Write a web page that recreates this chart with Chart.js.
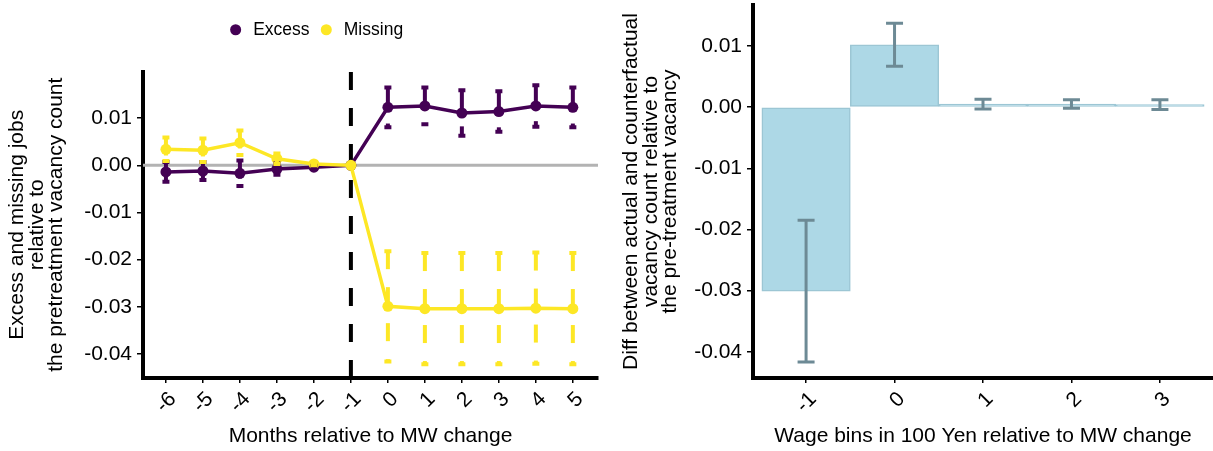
<!DOCTYPE html>
<html>
<head>
<meta charset="utf-8">
<script src="https://cdn.jsdelivr.net/npm/chart.js@4/dist/chart.umd.min.js"></script>
<style>
  html, body { margin: 0; padding: 0; background: #fff; }
  #wrap { position: relative; width: 1213px; height: 451px; overflow: hidden; }
  .panel { position: absolute; top: 0; height: 451px; }
  #rightPanel { left: 610px; width: 603px; }
  #leftPanel { left: 0; width: 630px; }
</style>
</head>
<body>
<div id="wrap">
  <div class="panel" id="rightPanel"><canvas id="diffChart"></canvas></div>
  <div class="panel" id="leftPanel"><canvas id="eventChart"></canvas></div>
</div>
<script>
/* data */
var months = [-6, -5, -4, -3, -2, -1, 0, 1, 2, 3, 4, 5];
var excessVals = [-0.0014, -0.0012, -0.0017, -0.0008, -0.0004, 0, 0.0123, 0.0126, 0.0111, 0.0114, 0.0126, 0.0123];
var excessErr = [0.0021, 0.0019, 0.0027, 0.0012, 0.0003, 0, 0.0042, 0.0039, 0.0048, 0.0043, 0.0044, 0.0042];
var missingVals = [0.0034, 0.0032, 0.0048, 0.0014, 0.0003, 0, -0.0299, -0.0304, -0.0304, -0.0304, -0.0303, -0.0304];
var missingErr = [0.0025, 0.0025, 0.0026, 0.0011, 0.0003, 0, 0.0117, 0.0118, 0.0118, 0.0118, 0.0118, 0.0118];

var wageBins = [-1, 0, 1, 2, 3];
var diffVals = [-0.0301, 0.0102, 0.0005, 0.0005, 0.0004];
var diffErr = [0.0116, 0.0035, 0.0008, 0.0007, 0.0008];

var leftYTicks = [-0.04, -0.03, -0.02, -0.01, 0, 0.01];
var rightYTicks = [-0.04, -0.03, -0.02, -0.01, 0, 0.01];

var PURPLE = '#440154';
var YELLOW = '#fde725';
var FONT = "'Liberation Sans', Arial, Helvetica, sans-serif";

Chart.defaults.font.family = FONT;
Chart.defaults.color = '#000';

function toPoints(xs, ys) {
  return xs.map(function (x, i) { return { x: x, y: ys[i] }; });
}

/* draws error bars for one dataset, positions come from the element/scale */
function drawErrors(chart, dsIndex, vals, errs, opt) {
  var ctx = chart.ctx, ys = chart.scales.y, meta = chart.getDatasetMeta(dsIndex);
  var h = opt.cap / 2;
  ctx.save();
  ctx.strokeStyle = opt.color;
  ctx.lineWidth = opt.width;
  ctx.lineCap = 'butt';
  vals.forEach(function (v, i) {
    if (!errs[i]) return;
    var x = meta.data[i].x;
    var top = ys.getPixelForValue(v + errs[i]);
    var bot = ys.getPixelForValue(v - errs[i]);
    ctx.setLineDash([]);
    ctx.beginPath();
    ctx.moveTo(x - h, top); ctx.lineTo(x + h, top);
    ctx.moveTo(x - h, bot); ctx.lineTo(x + h, bot);
    ctx.stroke();
    ctx.setLineDash(opt.dash || []);
    ctx.beginPath();
    ctx.moveTo(x, top); ctx.lineTo(x, bot);
    ctx.stroke();
  });
  ctx.restore();
}

/* extra room under the legend, and nudge it right (centred over the whole figure half) */
var legendGap = {
  id: 'legendGap',
  beforeInit: function (chart) {
    var fit = chart.legend.fit;
    chart.legend.fit = function () { fit.call(this); this.height += 23; };
  },
  afterLayout: function (chart) {
    chart.legend.left += 16;
    chart.legend.right += 16;
  }
};

/* zero line + dashed line at the event month */
var refLines = {
  id: 'refLines',
  beforeDatasetsDraw: function (chart) {
    var ctx = chart.ctx, a = chart.chartArea;
    var y0 = chart.scales.y.getPixelForValue(0);
    var xe = chart.scales.x.getPixelForValue(-1);
    ctx.save();
    ctx.strokeStyle = '#b3b3b3';
    ctx.lineWidth = 3;
    ctx.beginPath(); ctx.moveTo(a.left, y0); ctx.lineTo(a.right, y0); ctx.stroke();
    ctx.strokeStyle = '#000';
    ctx.lineWidth = 4;
    ctx.setLineDash([18, 18]);
    ctx.beginPath(); ctx.moveTo(xe, a.bottom); ctx.lineTo(xe, a.top); ctx.stroke();
    ctx.restore();
  }
};

var eventErrors = {
  id: 'eventErrors',
  afterDatasetsDraw: function (chart) {
    drawErrors(chart, 0, excessVals, excessErr, { color: PURPLE, width: 4, cap: 7, dash: [18, 18] });
    drawErrors(chart, 1, missingVals, missingErr, { color: YELLOW, width: 4, cap: 7, dash: [18, 18] });
  }
};

var diffErrors = {
  id: 'diffErrors',
  afterDatasetsDraw: function (chart) {
    drawErrors(chart, 0, diffVals, diffErr, { color: '#6d8a95', width: 3, cap: 17 });
  }
};

function xAxis(ticks, min, max, title) {
  return {
    type: 'linear',
    min: min,
    max: max,
    offset: false,
    afterBuildTicks: function (s) { s.ticks = ticks.map(function (v) { return { value: v }; }); },
    afterFit: function (s) { s.height = 73; s.paddingLeft = 0; s.paddingRight = 0; },
    border: { display: true, color: '#000', width: 4 },
    grid: { drawOnChartArea: false, offset: false, color: '#000', lineWidth: 1.5, tickLength: 5 },
    ticks: {
      minRotation: 45, maxRotation: 45, padding: 4, labelOffset: 7,
      font: { size: 21 },
      callback: function (v) { return String(v); }
    },
    title: { display: true, text: title, font: { size: 21 }, padding: { top: 2, bottom: 2 } }
  };
}

function yAxis(ticks, min, max, title, titlePad) {
  return {
    min: min,
    max: max,
    afterBuildTicks: function (s) { s.ticks = ticks.map(function (v) { return { value: v }; }); },
    afterFit: function (s) { s.width = 143; s.paddingTop = 0; s.paddingBottom = 0; },
    border: { display: true, color: '#000', width: 4 },
    grid: { drawOnChartArea: false, color: '#000', lineWidth: 1.5, tickLength: 6 },
    ticks: {
      padding: 5,
      font: { size: 21 },
      callback: function (v) { return v.toFixed(2); }
    },
    title: { display: true, text: title, font: { size: 21, lineHeight: 0.92 }, padding: { top: titlePad, bottom: 0 } }
  };
}

new Chart(document.getElementById('eventChart'), {
  type: 'line',
  data: {
    datasets: [{
      label: 'Excess',
      data: toPoints(months, excessVals),
      borderColor: PURPLE,
      backgroundColor: PURPLE,
      borderWidth: 3.5,
      pointRadius: 5.5,
      pointBorderWidth: 0,
      tension: 0,
      order: 1
    }, {
      label: 'Missing',
      data: toPoints(months, missingVals),
      borderColor: YELLOW,
      backgroundColor: YELLOW,
      borderWidth: 3.5,
      pointRadius: 5.5,
      pointBorderWidth: 0,
      tension: 0,
      order: 0
    }]
  },
  options: {
    responsive: true,
    maintainAspectRatio: false,
    animation: false,
    layout: { padding: { top: 13, right: 32, left: 0, bottom: 0 } },
    plugins: {
      tooltip: { enabled: false },
      legend: {
        position: 'top',
        labels: {
          usePointStyle: true,
          pointStyle: 'circle',
          boxWidth: 17.5,
          boxHeight: 7.8,
          padding: 8,
          font: { size: 17.5 },
          sort: function (a, b) { return a.datasetIndex - b.datasetIndex; },
          generateLabels: function (chart) {
            return Chart.defaults.plugins.legend.labels.generateLabels(chart).map(function (l) {
              l.lineWidth = 0;
              return l;
            });
          }
        }
      }
    },
    scales: {
      x: xAxis(months, -6.62, 5.68, 'Months relative to MW change'),
      y: yAxis(leftYTicks, -0.0451, 0.0199,
        ['Excess and missing jobs', 'relative to', 'the pretreatment vacancy count'], 8)
    }
  },
  plugins: [legendGap, refLines, eventErrors]
});

new Chart(document.getElementById('diffChart'), {
  type: 'bar',
  data: {
    datasets: [{
      label: 'Diff',
      data: toPoints(wageBins, diffVals),
      backgroundColor: '#add8e6',
      borderColor: '#9cc6d4',
      borderWidth: 1.5,
      borderSkipped: false,
      barPercentage: 1,
      categoryPercentage: 1
    }]
  },
  options: {
    responsive: true,
    maintainAspectRatio: false,
    animation: false,
    layout: { padding: { top: 5, right: 0, left: 0, bottom: 0 } },
    plugins: { legend: { display: false }, tooltip: { enabled: false } },
    scales: {
      x: xAxis(wageBins, -1.6, 3.6, 'Wage bins in 100 Yen relative to MW change'),
      y: yAxis(rightYTicks, -0.0443, 0.0167,
        ['Diff between actual and counterfactual', 'vacancy count relative to', 'the pre-treatment vacancy'], 12)
    }
  },
  plugins: [diffErrors]
});
</script>
</body>
</html>
